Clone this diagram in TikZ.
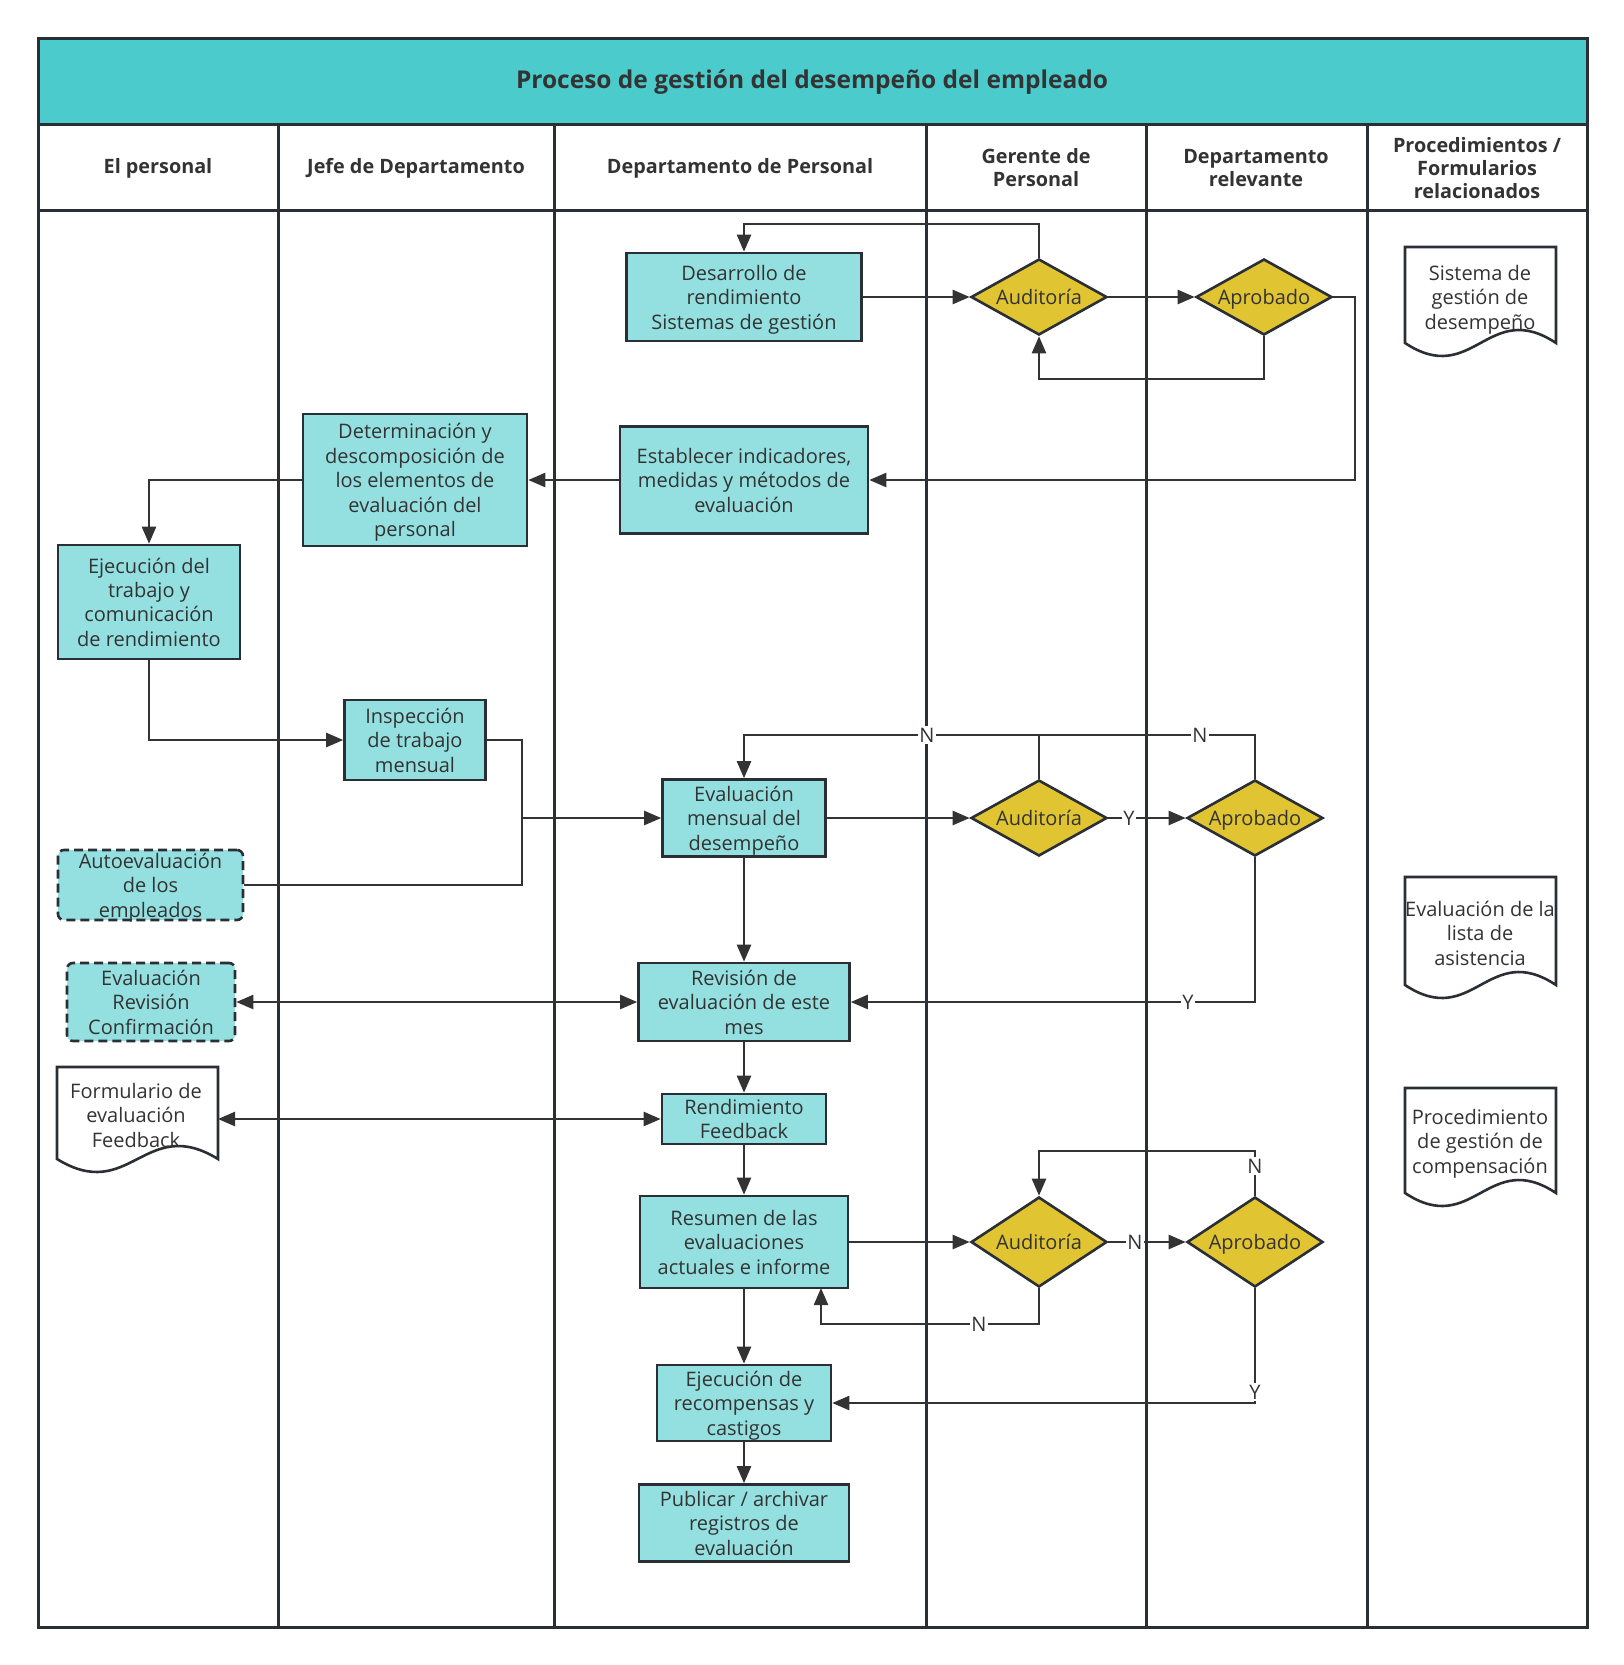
\documentclass[tikz,border=0pt]{standalone}
\usepackage{fontspec}
\setmainfont{Open Sans}
\usetikzlibrary{shapes.geometric,arrows.meta}
\definecolor{titlec}{HTML}{4CCBCD}
\definecolor{boxc}{HTML}{94E0E1}
\definecolor{decc}{HTML}{E0C432}
\definecolor{linec}{HTML}{2A2F35}
\definecolor{connc}{HTML}{333333}
\definecolor{txtc}{HTML}{333333}
\newcommand{\bodyf}{\fontsize{20}{24.4}\selectfont}
\newcommand{\headf}{\fontsize{19.8}{23}\selectfont\bfseries}
\newcommand{\titlef}{\fontsize{24.5}{28}\selectfont\bfseries}
\begin{document}
\begin{tikzpicture}[x=1pt,y=-1pt,
  every node/.style={text=txtc},
  proc/.style={draw=linec, line width=2.6pt, fill=boxc, align=center, inner sep=0pt, font=\bodyf, text depth=0pt},
  dproc/.style={proc, dash pattern=on 9pt off 5pt, rounded corners=6pt},
  dec/.style={diamond, draw=linec, line width=2.6pt, fill=decc, inner sep=0pt, aspect=1.8, font=\bodyf, text depth=0pt},
  conn/.style={draw=connc, line width=2.4pt, -{Triangle[length=17pt,width=14pt]}},
  conn2/.style={draw=connc, line width=2.4pt, {Triangle[length=17pt,width=14pt]}-{Triangle[length=17pt,width=14pt]}},
  plain/.style={draw=connc, line width=2.4pt},
  lbl/.style={fill=white, inner sep=1.5pt, font=\bodyf},
  docst/.style={draw=linec, line width=2.6pt, fill=white},
  doctxt/.style={font=\bodyf, align=center, text depth=0pt},
  lane/.style={draw=linec, line width=3pt},
  hdr/.style={font=\headf, align=center, text=txtc}
]
\useasboundingbox (0,0) rectangle (1624,1665);
\fill[white] (0,0) rectangle (1624,1665);
% title band
\fill[titlec] (38,38) rectangle (1587,124);
\node[font=\titlef] (title) at (812,82) {Proceso de gestión del desempeño del empleado};
% frame and lanes
\draw[lane] (38,38) rectangle (1587,1627);
\draw[lane] (38,124) -- (1587,124);
\draw[lane] (38,210) -- (1587,210);
\foreach \xx in {278,554,926,1146,1367} \draw[lane] (\xx,124) -- (\xx,1627);
% headers
\node[hdr] (h1) at (158,168) {El personal};
\node[hdr] (h2) at (416,168) {Jefe de Departamento};
\node[hdr] (h3) at (740,168) {Departamento de Personal};
\node[hdr] (h4) at (1036,168) {Gerente de\\Personal};
\node[hdr] (h5) at (1256,168) {Departamento\\relevante};
\node[hdr] (h6) at (1477,168) {Procedimientos /\\Formularios\\relacionados};

% documents
\draw[docst] (1405,247) -- (1556,247) -- (1556,343) .. controls (1488,298) and (1473,388) .. (1405,343) -- cycle;
\node[doctxt] (doc1) at (1480,297) {Sistema de\\gestión de\\desempeño};
\draw[docst] (1405,877) -- (1556,877) -- (1556,985) .. controls (1488,940) and (1473,1030) .. (1405,985) -- cycle;
\node[doctxt] (doc2) at (1480,933) {Evaluación de la\\lista de\\asistencia};
\draw[docst] (1405,1088) -- (1556,1088) -- (1556,1193) .. controls (1488,1148) and (1473,1238) .. (1405,1193) -- cycle;
\node[doctxt] (doc4) at (1480,1141) {Procedimiento\\de gestión de\\compensación};
\draw[docst] (57,1067) -- (218,1067) -- (218,1159) .. controls (145,1114) and (130,1204) .. (57,1159) -- cycle;
\node[doctxt] (doc3) at (136,1115) {Formulario de\\evaluación\\Feedback};
\coordinate (doc3e) at (218,1119);

% process nodes
\node[proc, minimum width=235, minimum height=88] (desa) at (744,297) {Desarrollo de\\rendimiento\\Sistemas de gestión};
\node[dec, minimum width=136, minimum height=76] (aud1) at (1039,297) {Auditoría};
\node[dec, minimum width=136, minimum height=76] (apr1) at (1264,297) {Aprobado};
\node[proc, minimum width=248, minimum height=107] (est) at (744,480) {Establecer indicadores,\\medidas y métodos de\\evaluación};
\node[proc, minimum width=224, minimum height=132] (det) at (415,480) {Determinación y\\descomposición de\\los elementos de\\evaluación del\\personal};
\node[proc, minimum width=182, minimum height=114] (ejec) at (149,602) {Ejecución del\\trabajo y\\comunicación\\de rendimiento};
\node[proc, minimum width=141, minimum height=80] (insp) at (415,740) {Inspección\\de trabajo\\mensual};
\node[proc, minimum width=163, minimum height=77] (evm) at (744,818) {Evaluación\\mensual del\\desempeño};
\node[dec, minimum width=136, minimum height=76] (aud2) at (1039,818) {Auditoría};
\node[dec, minimum width=136, minimum height=76] (apr2) at (1255,818) {Aprobado};
\node[dproc, minimum width=185, minimum height=70] (auto) at (150.5,885) {Autoevaluación\\de los\\empleados};
\node[dproc, minimum width=168, minimum height=78] (erc) at (151,1002) {Evaluación\\Revisión\\Confirmación};
\node[proc, minimum width=211, minimum height=78] (rev) at (744,1002) {Revisión de\\evaluación de este\\mes};
\node[proc, minimum width=164, minimum height=50] (rf) at (744,1119) {Rendimiento\\Feedback};
\node[proc, minimum width=208, minimum height=92] (res) at (744,1242) {Resumen de las\\evaluaciones\\actuales e informe};
\node[dec, minimum width=136, minimum height=90] (aud3) at (1039,1242) {Auditoría};
\node[dec, minimum width=136, minimum height=90] (apr3) at (1255,1242) {Aprobado};
\node[proc, minimum width=174, minimum height=76] (erp) at (744,1403) {Ejecución de\\recompensas y\\castigos};
\node[proc, minimum width=210, minimum height=77] (pub) at (744,1523) {Publicar / archivar\\registros de\\evaluación};

% connectors
\draw[conn] (desa.east) -- (aud1.west);
\draw[conn] (aud1.east) -- (apr1.west);
\draw[conn] (aud1.north) -- (1039,224) -- (desa.north |- 0,224) -- (desa.north);
\draw[conn] (apr1.south) -- (1264,379) -- (1039,379) -- (aud1.south);
\draw[conn] (apr1.east) -- (1355,297) -- (1355,480) -- (est.east);
\draw[conn] (est.west) -- (det.east);
\draw[conn] (det.west) -- (ejec.north |- det.west) -- (ejec.north);
\draw[conn] (ejec.south) -- (ejec.south |- insp.west) -- (insp.west);
\draw[conn] (insp.east) -- (522,740) -- (522,818) -- (evm.west);
\draw[plain] (auto.east) -- (522,885) -- (522,818);
\draw[conn] (evm.east) -- (aud2.west);
\draw[conn] (aud2.east) -- (apr2.west);
\node[lbl] (ly1) at (1129,818) {Y};
\draw[conn] (aud2.north) -- (1039,735) -- (evm.north |- 0,735) -- (evm.north);
\draw[plain] (apr2.north) -- (1255,735) -- (1039,735);
\node[lbl] (ln1) at (927,735) {N};
\node[lbl] (ln2) at (1200,735) {N};
\draw[conn] (apr2.south) -- (1255,1002) -- (rev.east);
\node[lbl] (ly2) at (1188,1002) {Y};
\draw[conn] (evm.south) -- (rev.north);
\draw[conn2] (rev.west) -- (erc.east);
\draw[conn] (rev.south) -- (rf.north);
\draw[conn2] (rf.west) -- (doc3e);
\draw[conn] (rf.south) -- (res.north);
\draw[conn] (res.east) -- (aud3.west);
\draw[conn] (aud3.east) -- (apr3.west);
\node[lbl] (ln3) at (1135,1242) {N};
\draw[conn] (apr3.north) -- (1255,1151) -- (1039,1151) -- (aud3.north);
\node[lbl] (ln4) at (1255,1166) {N};
\draw[conn] (aud3.south) -- (1039,1324) -- (821,1324) -- (821,1288);
\node[lbl] (ln5) at (979,1324) {N};
\draw[conn] (res.south) -- (erp.north);
\draw[conn] (apr3.south) -- (1255,1403) -- (erp.east);
\node[lbl] (ly3) at (1255,1392) {Y};
\draw[conn] (erp.south) -- (pub.north);
\end{tikzpicture}
\end{document}
